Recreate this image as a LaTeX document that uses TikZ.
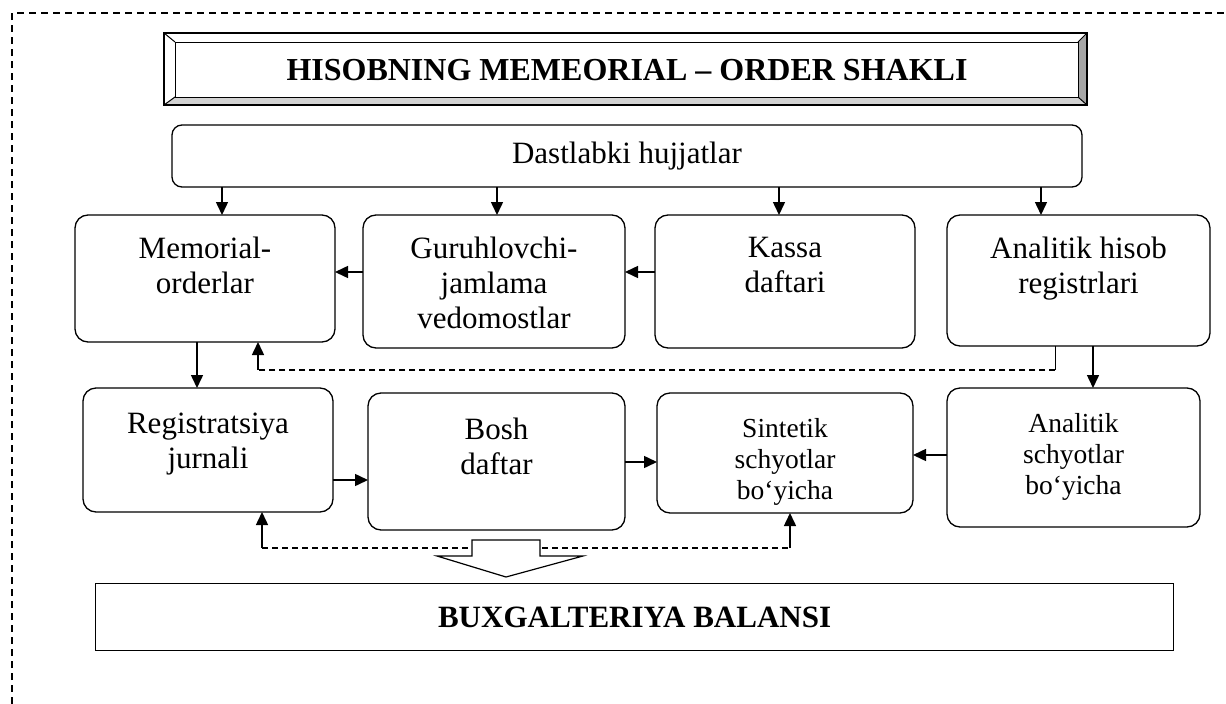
\documentclass[tikz,border=0pt]{standalone}
\usepackage{fontspec}
\setmainfont{Liberation Serif}
\usetikzlibrary{arrows.meta}
% box contents: width, height, top gap, text (top aligned)
\newcommand{\bxt}[4]{\parbox[c][#2pt][t]{#1pt}{\centering\vspace*{#3pt}#4\par}}
% box contents: width, height, text (vertically centred)
\newcommand{\bxc}[3]{\parbox[c][#2pt][c]{#1pt}{\centering #3\par}}

\begin{document}
\begin{tikzpicture}[x=1pt,y=-1pt,
  rbox/.style={draw, line width=1.3pt, rounded corners=13pt, inner sep=0pt, outer sep=0pt,
    anchor=north west, font=\fontsize{31}{35}\selectfont},
  sbox/.style={rbox, font=\fontsize{27.5}{31}\selectfont},
  arr/.style={line width=1.5pt, -{Triangle[length=13pt,width=12pt]}},
  link/.style={line width=1pt},
  dashlink/.style={line width=1.2pt, dash pattern=on 6pt off 4pt},
  frame/.style={line width=1.2pt, dash pattern=on 7pt off 5pt}]
\useasboundingbox (0,0) rectangle (1226,704);

% outer dashed frame (top and left edges)
\draw[frame] (12,704) -- (12,13) -- (1226,13);

% bevelled title plate
\fill[gray!35] (164,105) -- (1087,105) -- (1078,97) -- (175,97) -- cycle;
\fill[gray!70] (1087,33) -- (1087,105) -- (1078,97) -- (1078,42) -- cycle;
\draw[line width=1.2pt] (164,33) rectangle (1087,105);
\draw[line width=1pt] (164,33) -- (175,42) (1087,33) -- (1078,42)
  (164,105) -- (175,97) (1087,105) -- (1078,97);
\node[draw, line width=1pt, inner sep=0pt, anchor=north west,
  minimum width=903pt, minimum height=55pt,
  font=\bfseries\fontsize{32}{38}\selectfont] (title) at (175,42)
  {HISOBNING MEMEORIAL – ORDER SHAKLI};

% source documents
\node[rbox, rounded corners=10pt] (dast) at (172,125) {\bxc{910}{62}{Dastlabki hujjatlar}};

% first row
\node[rbox] (mem) at (75,215)  {\bxt{260}{127}{22}{Memorial-\\orderlar}};
\node[rbox] (gur) at (363,215) {\bxt{262}{133}{22}{Guruhlovchi-\\jamlama\\vedomostlar}};
\node[rbox] (kas) at (655,215) {\bxt{260}{133}{22}{Kassa\\daftari}};
\node[rbox] (anh) at (947,215) {\bxt{263}{131}{22}{Analitik hisob\\registrlari}};

% second row
\node[rbox] (reg) at (83,388)  {\bxt{250}{124}{25}{Registratsiya\\jurnali}};
\node[rbox] (bos) at (368,393) {\bxt{257}{137}{25}{Bosh\\daftar}};
\node[sbox] (sin) at (657,393) {\bxt{256}{120}{25}{Sintetik\\schyotlar\\bo‘yicha}};
\node[sbox] (ans) at (947,388) {\bxt{253}{139}{25}{Analitik\\schyotlar\\bo‘yicha}};

% balance
\node[draw, line width=1.2pt, inner sep=0pt, anchor=north west,
  minimum width=1078pt, minimum height=67pt,
  font=\bfseries\fontsize{31}{36}\selectfont] (bal) at (95,583) {BUXGALTERIYA BALANSI};

% connector columns and rows
\coordinate (c1) at (222,0);
\coordinate (c2) at (497,0);
\coordinate (c3) at (779,0);
\coordinate (c4) at (1041,0);
\coordinate (c5) at (1055,0);
\coordinate (c6) at (258,0);
\coordinate (c7) at (197,0);
\coordinate (c8) at (1093,0);
\coordinate (c9) at (262,0);
\coordinate (c10) at (790,0);
\coordinate (r1) at (0,272);
\coordinate (r2) at (0,370);
\coordinate (r3) at (0,480);
\coordinate (r4) at (0,462);
\coordinate (r5) at (0,455);
\coordinate (r6) at (0,548);

% documents into the first row
\draw[arr] (c1 |- dast.south) -- (c1 |- mem.north);
\draw[arr] (c2 |- dast.south) -- (c2 |- gur.north);
\draw[arr] (c3 |- dast.south) -- (c3 |- kas.north);
\draw[arr] (c4 |- dast.south) -- (c4 |- anh.north);

% first row, right to left
\draw[arr] (r1 -| gur.west) -- (r1 -| mem.east);
\draw[arr] (r1 -| kas.west) -- (r1 -| gur.east);

% down to the second row
\draw[arr] (c7 |- mem.south) -- (c7 |- reg.north);
\draw[arr] (c8 |- anh.south) -- (c8 |- ans.north);

% check link back to the memorial orders
\draw[link] (c5 |- anh.south) -- (c5 |- r2);
\draw[dashlink] (c5 |- r2) -- (c6 |- r2);
\draw[arr] (c6 |- r2) -- (c6 |- mem.south);

% second row
\draw[arr] (r3 -| reg.east) -- (r3 -| bos.west);
\draw[arr] (r4 -| bos.east) -- (r4 -| sin.west);
\draw[arr] (r5 -| ans.west) -- (r5 -| sin.east);

% reconciliation link under the second row
\draw[dashlink] (c9 |- r6) -- (c10 |- r6);
\draw[arr] (c9 |- r6) -- (c9 |- reg.south);
\draw[arr] (c10 |- r6) -- (c10 |- sin.south);

% hollow block arrow into the balance
\draw[line width=1.2pt, fill=white] (472,540) -- (540,540) -- (540,556) -- (583,556)
  -- (506,577) -- (437,556) -- (472,556) -- cycle;
\end{tikzpicture}
\end{document}
